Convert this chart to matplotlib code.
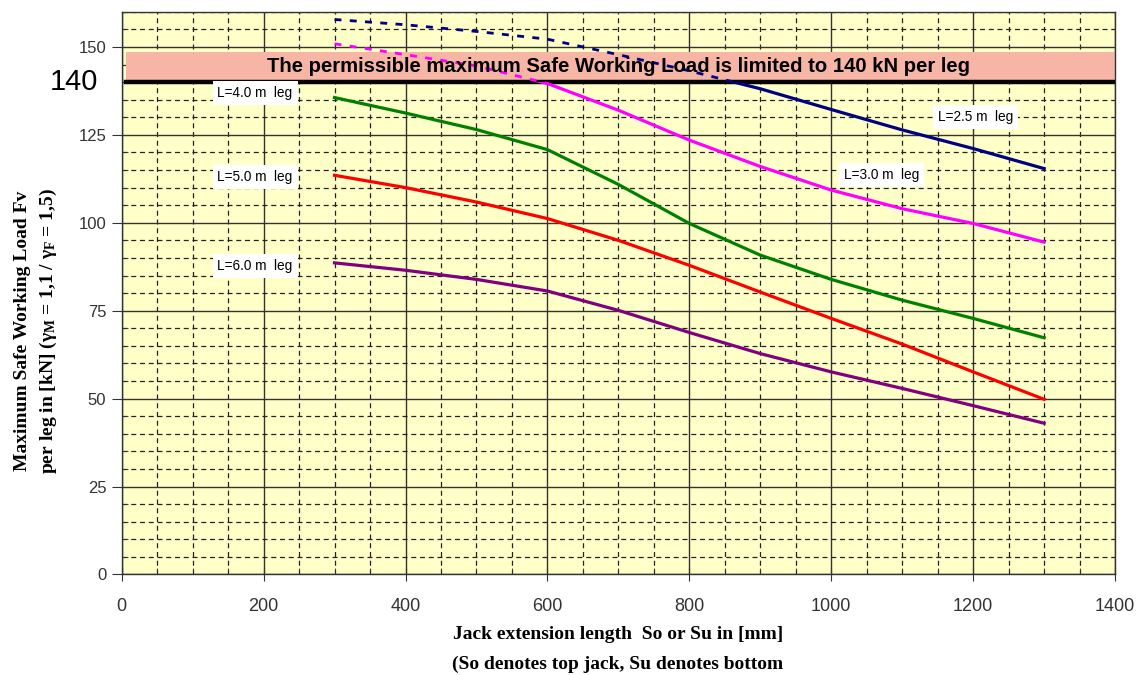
import matplotlib
matplotlib.use("Agg")
import matplotlib.pyplot as plt
from matplotlib.patches import Rectangle
from matplotlib.ticker import MultipleLocator
from matplotlib.transforms import blended_transform_factory

# jack extension [mm] and max safe working load [kN] per leg length
x_mm = [300, 400, 500, 600, 700, 800, 900, 1000, 1100, 1200, 1300]
leg_25 = [157.8, 156.3, 154.4, 152.2, 147.8, 143.2, 138.1, 132.2, 126.4, 121.1, 115.4]
leg_30 = [150.9, 147.8, 144.6, 139.6, 132.0, 123.5, 116.0, 109.3, 104.0, 99.8, 94.5]
leg_40 = [135.6, 131.2, 126.5, 120.8, 110.9, 99.8, 90.8, 83.9, 78.0, 72.8, 67.3]
leg_50 = [113.5, 110.0, 105.9, 101.2, 95.0, 87.9, 80.3, 72.8, 65.5, 57.6, 49.8]
leg_60 = [88.6, 86.5, 83.9, 80.6, 75.1, 68.8, 62.8, 57.6, 52.9, 48.0, 43.0]

series = [leg_25, leg_30, leg_40, leg_50, leg_60]
colors = ["#000080", "#ff00ff", "#008000", "#ff0000", "#800080"]
labels = ["L=2.5 m  leg", "L=3.0 m  leg", "L=4.0 m  leg", "L=5.0 m  leg", "L=6.0 m  leg"]
label_x = [1203, 1071, 188, 188, 188]
label_y = [130.1, 113.5, 137.0, 113.0, 87.6]

swl_limit = 140
band_top = 148.5

plt.rcParams["font.family"] = ["Liberation Sans", "DejaVu Sans"]
plt.rcParams["mathtext.fontset"] = "custom"
plt.rcParams["mathtext.rm"] = "Liberation Serif:bold"
plt.rcParams["mathtext.it"] = "Liberation Serif:bold"
plt.rcParams["mathtext.bf"] = "Liberation Serif:bold"

fig = plt.figure(figsize=(11.38, 6.75), dpi=100)
ax = fig.add_axes([0.1069, 0.1489, 0.873, 0.8337])
ax.set_facecolor("#ffffc8")
ax.set_xlim(0, 1400)
ax.set_ylim(0, 160)

ax.xaxis.set_major_locator(MultipleLocator(200))
ax.xaxis.set_minor_locator(MultipleLocator(50))
ax.yaxis.set_major_locator(MultipleLocator(25))
ax.yaxis.set_minor_locator(MultipleLocator(5))
ax.set_axisbelow(True)
ax.grid(which="major", color="#333333", lw=1.0, ls="-")
ax.grid(which="minor", color="#222222", lw=0.9, ls=(0, (4, 3)))

ax.tick_params(axis="y", which="major", direction="out", length=7, color="#333333",
               labelsize=12, labelcolor="#333333", pad=4)
ax.tick_params(axis="y", which="minor", direction="in", length=4, color="#333333")
ax.tick_params(axis="x", which="major", direction="inout", length=10, color="#333333",
               labelsize=13, labelcolor="#333333", pad=12)
ax.tick_params(axis="x", which="minor", direction="in", length=4, color="#333333")
for s in ax.spines.values():
    s.set_color("#333333")
    s.set_linewidth(1.0)

# permissible load band and limit line
ax.axhspan(swl_limit, band_top, xmin=6 / 1400, xmax=1, color="#f7b5a5", zorder=1.5, lw=0)
ax.axhline(swl_limit, xmin=6 / 1400, xmax=1, color="black", lw=3.2, zorder=3)

for ys, c in zip(series, colors):
    solid, = ax.plot(x_mm, ys, color=c, lw=2.3, zorder=4, solid_joinstyle="round")
    solid.set_clip_path(Rectangle((0, 0), 1400, swl_limit, transform=ax.transData))
    dash, = ax.plot(x_mm, ys, color=c, lw=2.0, ls=(0, (2.5, 3)), zorder=4)
    dash.set_clip_path(Rectangle((0, swl_limit), 1400, 20, transform=ax.transData))

for t, lx, ly in zip(labels, label_x, label_y):
    ax.text(lx, ly, t, fontsize=9.8, ha="center", va="center", zorder=6,
            bbox=dict(facecolor="white", edgecolor="none", pad=3.5))

ax.text(700, 144.3, "The permissible maximum Safe Working Load is limited to 140 kN per leg",
        fontsize=14.6, fontweight="bold", ha="center", va="center", zorder=6)

trans = blended_transform_factory(ax.transAxes, ax.transData)
ax.text(-0.024, swl_limit, "140", transform=trans, fontsize=21, ha="right", va="center")

fig.text(0.0195, 0.51, "Maximum Safe Working Load Fv", rotation=90, ha="center", va="center",
         fontsize=14, family="Liberation Serif", fontweight="bold")
fig.text(0.0425, 0.51, r"per leg in [kN] ($\gamma_{M}$ = 1,1 / $\gamma_{F}$ = 1,5)", rotation=90,
         ha="center", va="center", fontsize=14, family="Liberation Serif", fontweight="bold")

fig.text(0.543, 0.0607, "Jack extension length  So or Su in [mm]", ha="center", va="center",
         fontsize=14, family="Liberation Serif", fontweight="bold")
fig.text(0.543, 0.0163, "(So denotes top jack, Su denotes bottom", ha="center", va="center",
         fontsize=14, family="Liberation Serif", fontweight="bold")

fig.savefig("out.png", dpi=100)
